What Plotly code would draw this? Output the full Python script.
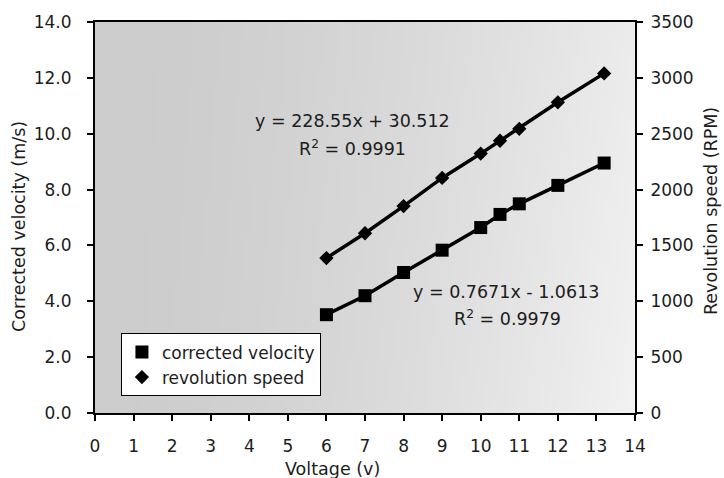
import base64
import struct
import zlib

import plotly.graph_objects as go

# Measured values
voltage = [6, 7, 8, 9, 10, 10.5, 11, 12, 13.2]
corrected_velocity = [3.52, 4.20, 5.03, 5.83, 6.64, 7.11, 7.49, 8.15, 8.95]
revolution_speed = [1387, 1609, 1852, 2104, 2322, 2437, 2544, 2781, 3040]

x_ticks = list(range(0, 15))
y_left_ticks = [0, 2, 4, 6, 8, 10, 12, 14]
y_right_ticks = [0, 500, 1000, 1500, 2000, 2500, 3000, 3500]

eq_speed = "y = 228.55x + 30.512"
r2_speed = "R<sup>2</sup> = 0.9991"
eq_velocity = "y = 0.7671x - 1.0613"
r2_velocity = "R<sup>2</sup> = 0.9979"

FONT = "DejaVu Sans"
TEXT = "#1c1c1c"
FS = 17


def gradient_png(w, h):
    """Grey fill for the plot area, lighter towards the right."""
    rows = []
    for j in range(h):
        fy = j / (h - 1)
        row = bytearray([0])
        for i in range(w):
            fx = i / (w - 1)
            v = int(204 + 32 * fx ** 1.6 + 6 * fy * fx)
            row += bytes([v, v, v])
        rows.append(bytes(row))
    raw = b"".join(rows)

    def chunk(tag, data):
        return (struct.pack(">I", len(data)) + tag + data
                + struct.pack(">I", zlib.crc32(tag + data) & 0xFFFFFFFF))

    png = (b"\x89PNG\r\n\x1a\n"
           + chunk(b"IHDR", struct.pack(">IIBBBBB", w, h, 8, 2, 0, 0, 0))
           + chunk(b"IDAT", zlib.compress(raw))
           + chunk(b"IEND", b""))
    return "data:image/png;base64," + base64.b64encode(png).decode()


fig = go.Figure()

# connecting lines
fig.add_trace(go.Scatter(x=voltage, y=revolution_speed, mode="lines", yaxis="y2",
                         line=dict(color="black", width=3.5), showlegend=False,
                         hoverinfo="skip"))
fig.add_trace(go.Scatter(x=voltage, y=corrected_velocity, mode="lines",
                         line=dict(color="black", width=3.5), showlegend=False,
                         hoverinfo="skip"))

# markers (legend entries)
fig.add_trace(go.Scatter(x=voltage, y=corrected_velocity, mode="markers",
                         name="corrected velocity",
                         marker=dict(symbol="square", size=13, color="black")))
fig.add_trace(go.Scatter(x=voltage, y=revolution_speed, mode="markers", yaxis="y2",
                         name="revolution speed",
                         marker=dict(symbol="diamond", size=11, color="black")))

axis_common = dict(showgrid=False, zeroline=False, showline=True, linecolor="black",
                   linewidth=2, ticks="outside", ticklen=6, tickwidth=1.5,
                   tickcolor="black", tickfont=dict(family=FONT, size=FS, color=TEXT))

fig.update_layout(
    width=724, height=478,
    margin=dict(l=95, r=89, t=20, b=65),
    paper_bgcolor="white",
    plot_bgcolor="rgba(0,0,0,0)",
    font=dict(family=FONT, size=FS, color=TEXT),
    xaxis=dict(range=[0, 14], tickvals=x_ticks, mirror=True, ticklabelstandoff=11,
               **axis_common),
    yaxis=dict(range=[0, 14], tickvals=y_left_ticks, tickformat=".1f",
               ticklabelstandoff=12, **axis_common),
    yaxis2=dict(range=[0, 3500], tickvals=y_right_ticks, overlaying="y", side="right",
                ticklabelstandoff=4, **axis_common),
    legend=dict(x=0.048, y=0.2036, xanchor="left", yanchor="top",
                bgcolor="white", bordercolor="black", borderwidth=1,
                font=dict(family=FONT, size=FS, color=TEXT)),
    images=[dict(source=gradient_png(120, 90), xref="paper", yref="paper",
                 x=0, y=1, sizex=1, sizey=1, sizing="stretch", layer="below",
                 xanchor="left", yanchor="top")],
    showlegend=True,
)

ann = dict(xref="paper", yref="paper", showarrow=False,
           xanchor="center", yanchor="middle",
           font=dict(family=FONT, size=17.5, color=TEXT))
fig.add_annotation(text=eq_speed, x=0.476, y=0.748, **ann)
fig.add_annotation(text=r2_speed, x=0.476, y=0.679, **ann)
fig.add_annotation(text=eq_velocity, x=0.762, y=0.310, **ann)
fig.add_annotation(text=r2_velocity, x=0.764, y=0.242, **ann)

# axis titles
fig.add_annotation(text="Corrected velocity (m/s)", x=-0.1407, y=0.476, textangle=-90, **ann)
fig.add_annotation(text="Revolution speed (RPM)", x=1.1407, y=0.5165, textangle=-90, **ann)
fig.add_annotation(text="Voltage (v)", x=0.439, y=-0.1425, **ann)

fig.write_html("out.html")
